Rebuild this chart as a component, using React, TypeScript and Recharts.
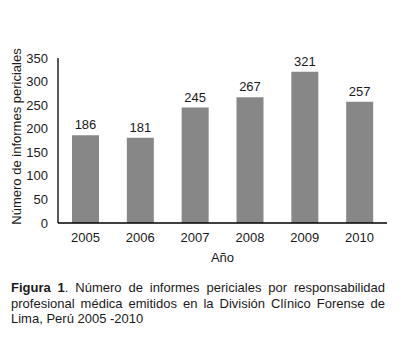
import { BarChart, Bar, XAxis, YAxis, LabelList, Label } from 'recharts';

const years = ['2005', '2006', '2007', '2008', '2009', '2010'];
const informes = [186, 181, 245, 267, 321, 257];
const yTicks = [0, 50, 100, 150, 200, 250, 300, 350];

const font = 'Liberation Sans, Arial, sans-serif';

export default function App(): JSX.Element {
  const data = years.map((y, i) => ({ year: y, value: informes[i] }));
  return (
    <div style={{ position: 'absolute', left: 0, top: 0, width: 401, height: 339, background: '#fff', fontFamily: font }}>
      <BarChart width={401} height={270} data={data} margin={{ top: 58, right: 14, left: 0, bottom: 17 }} barCategoryGap={0}>
        <XAxis
          dataKey='year'
          axisLine={{ stroke: '#000', strokeWidth: 1.3 }}
          tickLine={false}
          tickMargin={4}
          height={30}
          tick={{ fill: '#1a1a1a', fontSize: 13, fontFamily: font }}
        >
          <Label
            content={() => (
              <text x={222.5} y={262} textAnchor='middle' fill='#1a1a1a' fontSize={13} fontFamily={font}>
                Año
              </text>
            )}
          />
        </XAxis>
        <YAxis
          width={58}
          domain={[0, 350]}
          ticks={yTicks}
          interval={0}
          axisLine={{ stroke: '#000', strokeWidth: 1.3 }}
          tickLine={false}
          tickMargin={4}
          tick={{ fill: '#1a1a1a', fontSize: 13, fontFamily: font }}
        >
          <Label
            content={() => (
              <text x={20.5} y={136.5} transform='rotate(-90 20.5 136.5)' textAnchor='middle' fill='#1a1a1a' fontSize={13} fontFamily={font}>
                Número de informes periciales
              </text>
            )}
          />
        </YAxis>
        <Bar dataKey='value' fill='#878787' barSize={27} isAnimationActive={false}>
          <LabelList dataKey='value' position='top' offset={6} fill='#1a1a1a' fontSize={13} fontFamily={font} />
        </Bar>
      </BarChart>
      <div
        style={{
          position: 'absolute',
          left: 11,
          top: 280,
          width: 374,
          fontSize: 13,
          lineHeight: '15.5px',
          textAlign: 'justify',
          color: '#1a1a1a',
        }}
      >
        <b>Figura 1</b>. Número de informes periciales por responsabilidad profesional médica emitidos en la División Clínico Forense de Lima, Perú 2005 -2010
      </div>
    </div>
  );
}
